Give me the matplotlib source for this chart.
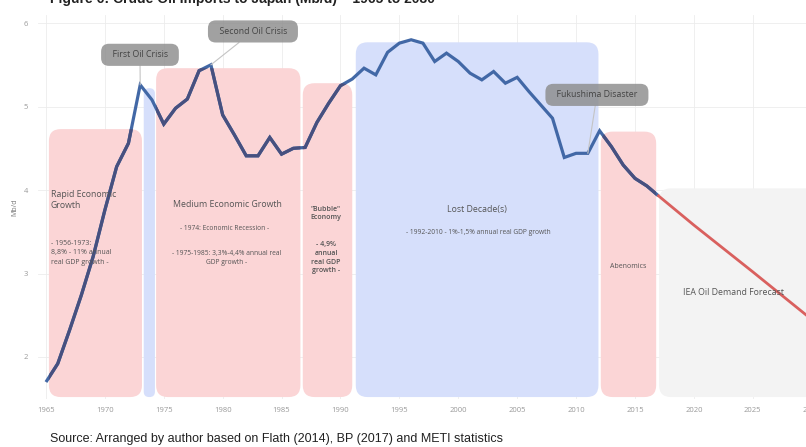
import matplotlib
matplotlib.use("Agg")
import matplotlib.pyplot as plt
from matplotlib.patches import FancyBboxPatch

plt.rcParams['font.family'] = ['Open Sans', 'DejaVu Sans']

# 日本原油进口量 (Mb/d)
hist_years = list(range(1965, 2018))
hist_values = [1.70, 1.92, 2.32, 2.74, 3.20, 3.76, 4.28, 4.56, 5.26, 5.08,
               4.79, 4.98, 5.09, 5.43, 5.50, 4.90, 4.66, 4.41, 4.41, 4.63,
               4.43, 4.50, 4.51, 4.81, 5.04, 5.25, 5.33, 5.46, 5.38, 5.65,
               5.76, 5.80, 5.76, 5.54, 5.64, 5.54, 5.40, 5.32, 5.42, 5.28,
               5.35, 5.18, 5.02, 4.86, 4.39, 4.44, 4.44, 4.71, 4.52, 4.30,
               4.14, 4.05, 3.93]
forecast_years = [2017, 2020, 2025, 2030]
forecast_values = [3.93, 3.58, 3.02, 2.45]

# 时期背景
band_start = [1965.25, 1973.3, 1974.35, 1986.8, 1991.3, 2012.1, 2017.05]
band_end = [1973.15, 1974.25, 1986.6, 1991.0, 2011.9, 2016.8, 2031.5]
band_top = [4.73, 5.22, 5.46, 5.28, 5.77, 4.70, 4.02]
band_kind = ['pink', 'blue', 'pink', 'pink', 'blue', 'pink', 'gray']
band_bottom = 1.52

x_ticks = [1965, 1970, 1975, 1980, 1985, 1990, 1995, 2000, 2005, 2010, 2015, 2020, 2025, 2030]
y_ticks = [2, 3, 4, 5, 6]

COLORS = {'pink': '#fbd5d6', 'blue': '#d6dffb', 'gray': '#f3f3f3'}
LINE_BLUE = '#4268a6'
LINE_DARK = '#47507f'
LINE_RED = '#d9605e'

fig = plt.figure(figsize=(8.06, 4.47), dpi=100)
ax = fig.add_axes([0.0468, 0.108, 0.969, 0.859])
ax.set_xlim(1964.3, 2030.6)
ax.set_ylim(1.5, 6.1)

# 圆角矩形 (x: 11.78 px/年, y: 83.5 px/单位)
aspect = 11.78 / 83.5
pink_patches = []
for s, e, t, k in zip(band_start, band_end, band_top, band_kind):
    r = min(1.0, (e - s) / 2 - 0.02)
    p = FancyBboxPatch((s, band_bottom), e - s, t - band_bottom,
                       boxstyle=f"round,pad=0,rounding_size={r}",
                       mutation_aspect=aspect, fc=COLORS[k], ec='none', zorder=1)
    ax.add_patch(p)
    if k == 'pink':
        pink_patches.append(p)

ax.plot(hist_years, hist_values, color=LINE_BLUE, lw=2.3, zorder=3,
        solid_joinstyle='miter', solid_capstyle='butt')
for p in pink_patches:
    ln, = ax.plot(hist_years, hist_values, color=LINE_DARK, lw=2.3, zorder=3.1,
                  solid_joinstyle='miter', solid_capstyle='butt')
    ln.set_clip_path(p)
ax.plot(forecast_years, forecast_values, color=LINE_RED, lw=2.0, zorder=3)

# 坐标轴
ax.set_xticks(x_ticks)
ax.set_yticks(y_ticks)
ax.tick_params(length=0, labelsize=5.5, labelcolor='#999999')
ax.tick_params(axis='x', pad=6)
ax.tick_params(axis='y', pad=7)
ax.grid(True, color='#ececec', lw=0.6, zorder=0)
ax.set_axisbelow(True)
for sp in ax.spines.values():
    sp.set_visible(False)
ax.set_ylabel('Mb/d', fontsize=5, color='#777777', labelpad=4)

# 文字说明
txt = dict(color='#555555', zorder=4)
ax.text(1965.42, 4.00, 'Rapid Economic\nGrowth', fontsize=6.3, ha='left', va='top',
        linespacing=1.3, **txt)
ax.text(1965.42, 3.40, '- 1956-1973:\n8,8% - 11% annual\nreal GDP growth -', fontsize=5,
        ha='left', va='top', linespacing=1.45, **txt)
ax.text(1980.37, 3.83, 'Medium Economic Growth', fontsize=6.3, ha='center', va='center', **txt)
ax.text(1980.2, 3.54, '- 1974: Economic Recession -', fontsize=4.8, ha='center', va='center', **txt)
ax.text(1980.37, 3.19, '- 1975-1985: 3,3%-4,4% annual real\nGDP growth -', fontsize=4.8,
        ha='center', va='center', linespacing=1.45, **txt)
ax.text(1988.77, 3.72, '"Bubble"\nEconomy', fontsize=5, ha='center', va='center',
        fontweight='semibold', linespacing=1.3, **txt)
ax.text(1988.77, 3.19, '- 4,9%\nannual\nreal GDP\ngrowth -', fontsize=5, ha='center', va='center',
        fontweight='semibold', linespacing=1.35, **txt)
ax.text(2001.6, 3.77, 'Lost Decade(s)', fontsize=6.3, ha='center', va='center', **txt)
ax.text(2001.67, 3.49, '- 1992-2010 - 1%-1,5% annual real GDP growth', fontsize=4.8,
        ha='center', va='center', **txt)
ax.text(2014.45, 3.09, 'Abenomics', fontsize=5, ha='center', va='center', **txt)
ax.text(2023.4, 2.77, 'IEA Oil Demand Forecast', fontsize=6.3, ha='center', va='center', **txt)

# 事件标注
box = dict(boxstyle='round,pad=0.75,rounding_size=0.9', fc='#8a8a8a', ec='none', alpha=0.8)
arrow = dict(arrowstyle='-', color='#c4c4c4', lw=0.8, shrinkA=0, shrinkB=0)
ax.annotate('  First Oil Crisis  ', xy=(1973, 5.26), xytext=(1972.98, 5.62),
            fontsize=6.3, color='#444444', ha='center', va='center',
            bbox=box, arrowprops=arrow, zorder=5)
ax.annotate('  Second Oil Crisis  ', xy=(1979, 5.50), xytext=(1982.57, 5.90),
            fontsize=6.3, color='#444444', ha='center', va='center',
            bbox=box, arrowprops=arrow, zorder=5)
ax.annotate('  Fukushima Disaster  ', xy=(2011, 4.44), xytext=(2011.77, 5.14),
            fontsize=6.3, color='#444444', ha='center', va='center',
            bbox=box, arrowprops=arrow, zorder=5)

fig.text(50 / 806, 1 - 3 / 447, 'Figure 6: Crude Oil Imports to Japan (Mb/d) \u2013 1965 to 2030',
         fontsize=10, fontweight='bold', family=['Liberation Sans', 'DejaVu Sans'],
         color='#222222', ha='left', va='baseline')
fig.text(50 / 806, 1 - 442 / 447,
         'Source: Arranged by author based on Flath (2014), BP (2017) and METI statistics',
         fontsize=9, family=['Liberation Sans', 'DejaVu Sans'], color='#222222',
         ha='left', va='baseline')

fig.savefig('out.png', dpi=100)
